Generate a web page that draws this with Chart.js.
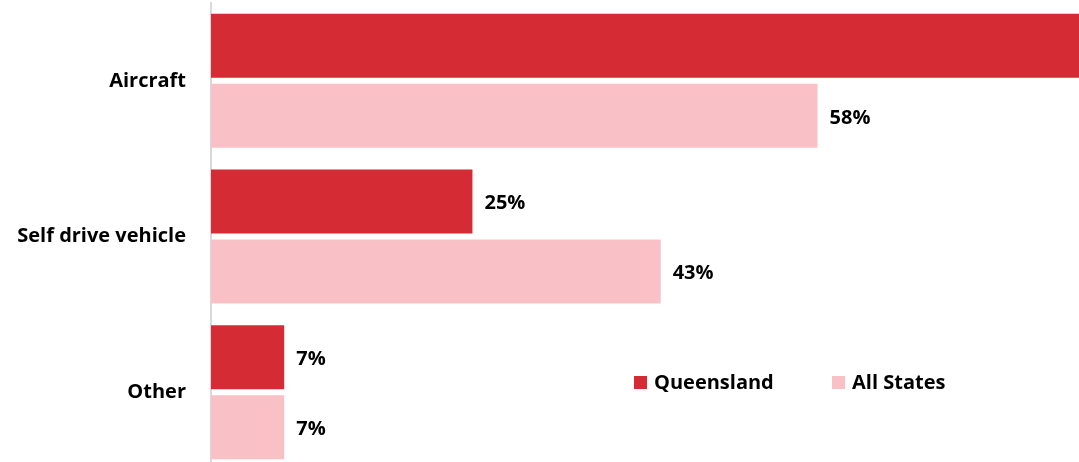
<!DOCTYPE html>
<html>
<head>
<meta charset="utf-8">
<script src="https://cdn.jsdelivr.net/npm/chart.js@4"></script>
<style>
  html, body { margin: 0; padding: 0; background: #fff; overflow: hidden; }
  #wrap { width: 1079px; height: 472px; position: relative; }
</style>
</head>
<body>
<div id="wrap"><canvas id="myChart"></canvas></div>
<script>
const categories = ['Aircraft', 'Self drive vehicle', 'Other'];
const queensland = [85, 25, 7];
const allStates = [58, 43, 7];
const seriesNames = ['Queensland', 'All States'];
const colors = ['#D52B35', '#F9C1C5'];

const fontFamily = '"Open Sans", "Liberation Sans", sans-serif';

// value labels to the right of each bar
const valueLabels = {
  id: 'valueLabels',
  afterDatasetsDraw(chart) {
    const ctx = chart.ctx;
    ctx.save();
    ctx.font = 'bold 20px ' + fontFamily;
    ctx.fillStyle = '#000';
    ctx.textBaseline = 'middle';
    chart.data.datasets.forEach((ds, i) => {
      chart.getDatasetMeta(i).data.forEach((bar, j) => {
        ctx.fillText(ds.data[j] + '%', bar.x + 12, bar.y + 2);
      });
    });
    ctx.restore();
  }
};

// legend drawn inside the plot area, lower right
const innerLegend = {
  id: 'innerLegend',
  afterDraw(chart) {
    const ctx = chart.ctx;
    const pos = [634, 832];
    ctx.save();
    ctx.font = 'bold 20px ' + fontFamily;
    ctx.textBaseline = 'middle';
    chart.data.datasets.forEach((ds, i) => {
      ctx.fillStyle = ds.backgroundColor;
      ctx.fillRect(pos[i], 376, 13, 13);
      ctx.fillStyle = '#000';
      ctx.fillText(ds.label, pos[i] + 20, 383);
    });
    ctx.restore();
  }
};

const ctx = document.getElementById('myChart');

new Chart(ctx, {
  type: 'bar',
  data: {
    labels: categories,
    datasets: [
      { label: seriesNames[0], data: queensland, backgroundColor: colors[0] },
      { label: seriesNames[1], data: allStates, backgroundColor: colors[1] }
    ]
  },
  options: {
    indexAxis: 'y',
    responsive: true,
    maintainAspectRatio: false,
    animation: false,
    categoryPercentage: 0.9,
    barPercentage: 0.914,
    layout: { padding: { top: 3, right: 0, bottom: 2, left: 0 } },
    plugins: {
      legend: { display: false },
      tooltip: { enabled: false }
    },
    scales: {
      x: { min: 0, max: 83, display: false },
      y: {
        afterFit(scale) {
          scale.width = 211;
          scale.paddingTop = 0;
          scale.paddingBottom = 0;
        },
        grid: { display: false, drawTicks: false },
        border: { display: true, color: '#d9d9d9', width: 2 },
        ticks: {
          color: '#000',
          padding: 25,
          font: { family: fontFamily, size: 20, weight: 'bold' }
        }
      }
    }
  },
  plugins: [valueLabels, innerLegend]
});
</script>
</body>
</html>
